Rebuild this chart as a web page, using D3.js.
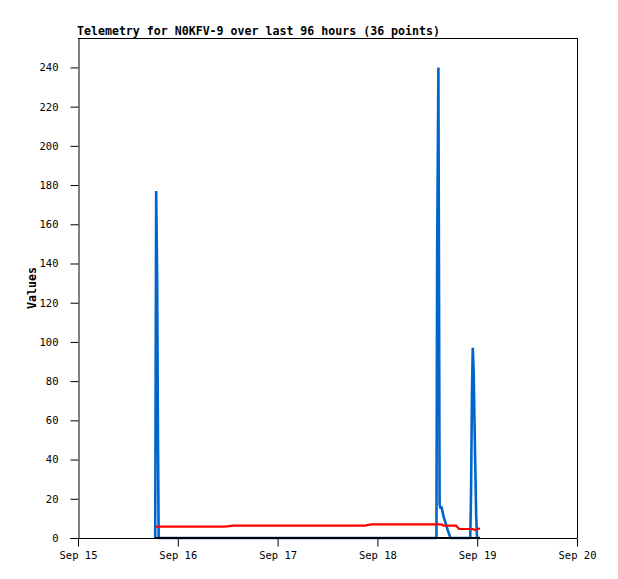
<!DOCTYPE html>
<html><head><meta charset="utf-8">
<script src="https://cdn.jsdelivr.net/npm/d3@7"></script>
<style>body{margin:0;background:#fff}svg{display:block}</style>
</head><body>
<svg id="c" width="618" height="579"></svg>
<script>
const titleText = "Telemetry for N0KFV-9 over last 96 hours (36 points)";
const yLabel = "Values";
const times = [
 "2023-09-15T18:34Z","2023-09-15T18:48Z","2023-09-15T19:02Z","2023-09-15T19:15Z","2023-09-15T19:24Z",
 "2023-09-16T01:44Z","2023-09-16T11:21Z","2023-09-16T13:17Z","2023-09-16T22:11Z","2023-09-17T07:48Z",
 "2023-09-17T21:01Z","2023-09-17T22:28Z","2023-09-18T05:26Z","2023-09-18T11:27Z",
 "2023-09-18T14:12Z","2023-09-18T14:22Z","2023-09-18T14:40Z","2023-09-18T14:58Z","2023-09-18T15:14Z",
 "2023-09-18T15:25Z","2023-09-18T15:54Z","2023-09-18T16:30Z","2023-09-18T16:59Z","2023-09-18T17:35Z",
 "2023-09-18T18:55Z","2023-09-18T19:38Z",
 "2023-09-18T22:20Z","2023-09-18T22:32Z","2023-09-18T22:44Z","2023-09-18T22:56Z","2023-09-18T23:09Z",
 "2023-09-18T23:20Z","2023-09-18T23:32Z","2023-09-18T23:45Z","2023-09-18T23:57Z","2023-09-19T00:41Z"
];
const blueValues = [0,177,133,45,0, 0,0,0,0,0, 0,0,0,0, 0,144,240,17,15, 16,11,7,3.5,0, 0,0, 0,25,73,97,85, 61,37,12,0,0];
const redValues = [5.8,5.8,5.8,5.8,5.8, 5.8,5.8,6.3,6.3,6.3, 6.3,6.9,6.9,6.9, 6.9,6.9,6.9,6.9,6.9, 6.9,6.3,6.3,6.3,6.3, 6.3,4.6, 4.6,4.6,4.6,4.6,4.3, 4.1,4.1,4.3,4.6,4.8];
const blackValues = [0,0,0,0,0, 0,0,0,0,0, 0,0,0,0, 0,0,0,0,0, 0,0,0,0,0, 0,0, 0,0,0,0,0, 0,0,0,0,0];
const xDomain = ["2023-09-15T00:00Z","2023-09-20T00:00Z"];
const yDomain = [0,255];
const yTicks = [0,20,40,60,80,100,120,140,160,180,200,220,240];

const svg = d3.select("#c");
const L=78,R=577,T=38,B=538;
const x = d3.scaleUtc().domain(xDomain.map(d=>new Date(d))).range([L,R]);
const y = d3.scaleLinear().domain(yDomain).range([B,T]);
const dates = times.map(d=>new Date(d));

// frame
svg.append("line").attr("x1",L).attr("x2",R).attr("y1",T+0.5).attr("y2",T+0.5).attr("stroke","#000");
svg.append("line").attr("x1",R+0.5).attr("x2",R+0.5).attr("y1",T).attr("y2",B).attr("stroke","#000");

const mono = "'DejaVu Sans Mono', 'Liberation Mono', monospace";

// y axis
const ya = svg.append("g").attr("transform",`translate(${L+0.5},0)`)
 .call(d3.axisLeft(y).tickValues(yTicks).tickSize(8).tickPadding(12).tickSizeOuter(0));
ya.select(".domain").attr("stroke","#000");
ya.selectAll("text").attr("font-family",mono).attr("font-size","10.5px").attr("fill","#000");

// x axis
const xa = svg.append("g").attr("transform",`translate(0,${B+0.5})`)
 .call(d3.axisBottom(x).ticks(d3.utcDay.every(1)).tickFormat(d3.utcFormat("%b %d")).tickSize(8).tickPadding(5).tickSizeOuter(0));
xa.select(".domain").attr("stroke","#000").attr("d",`M${L-8},0H${R}`);
xa.selectAll("text").attr("font-family",mono).attr("font-size","10.5px").attr("fill","#000");

const line = vals => d3.line().x((d,i)=>x(dates[i])).y((d,i)=>y(vals[i]))(vals);
svg.append("path").attr("d",line(blueValues)).attr("fill","none").attr("stroke","#0066cc").attr("stroke-width",2.6).attr("stroke-linejoin","bevel");
svg.append("path").attr("d",line(redValues)).attr("fill","none").attr("stroke","#ff0000").attr("stroke-width",2.2);
svg.append("path").attr("d",line(blackValues)).attr("fill","none").attr("stroke","#000").attr("stroke-width",2);

svg.append("text").attr("x",L-1).attr("y",35).attr("font-family",mono).attr("font-weight","bold").attr("font-size","11.6px").text(titleText);
svg.append("text").attr("transform",`translate(36,${(T+B)/2}) rotate(-90)`).attr("text-anchor","middle")
 .attr("font-family",mono).attr("font-weight","bold").attr("font-size","11.6px").text(yLabel);
</script>
</body></html>
